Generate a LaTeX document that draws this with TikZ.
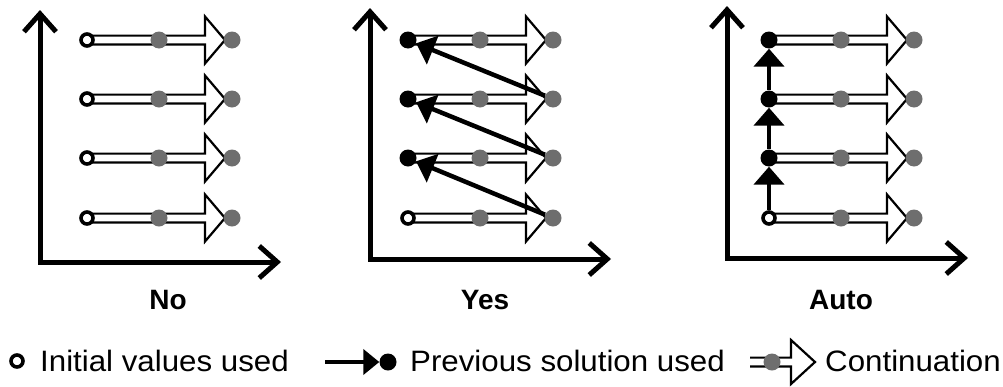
\documentclass[tikz,border=0pt]{standalone}
\usepackage{fontspec}
\setmainfont{Liberation Sans}
\newfontfamily\legendfont[FakeStretch=1.06]{Liberation Sans}
\usetikzlibrary{arrows.meta, calc, backgrounds}
\definecolor{dotgray}{RGB}{110,110,110}
\tikzset{
  barb/.tip={Straight Barb[length=18pt, width=32pt]},
  axis/.style={line width=5pt, line join=miter, barb-barb},
  initdot/.style={circle, draw, line width=3.6pt, fill=white, minimum size=12pt, inner sep=0pt},
  prevdot/.style={circle, fill=black, minimum size=17pt, inner sep=0pt},
  contdot/.style={circle, fill=dotgray, minimum size=17pt, inner sep=0pt},
  contarr/.style={draw, fill=white, line width=2.2pt, line join=miter},
  prevarr/.style={line width=4.5pt, -{Triangle[length=18pt, width=30pt]}},
  panellabel/.style={font=\bfseries\fontsize{28}{28}\selectfont, inner sep=0pt},
  legendtext/.style={font=\legendfont\fontsize{29.5}{29.5}\selectfont, inner sep=0pt, anchor=west},
}

\begin{document}
\begin{tikzpicture}[x=1pt, y=-1pt]
\useasboundingbox (0,0) rectangle (1003,386);
% axes
\foreach \p/\ax/\yb/\yt in {a/40/262/10, b/370/259/8, c/727/258/6} {
  \coordinate (\p top) at (\ax,\yt);
  \coordinate (\p org) at (\ax,\yb);
  \coordinate (\p end) at (\ax+241,\yb);
  \draw[axis] (\p top) -- (\p org) -- (\p end);
}
% continuation points
\foreach \p/\cx in {a/87, b/408, c/769}
  \foreach \r/\y in {1/40, 2/99, 3/158, 4/218} {
    \node[contdot] (\p\r m) at (\cx+72,\y) {};
    \node[contdot] (\p\r e) at (\cx+145,\y) {};
  }
% starting points
\foreach \r/\y in {1/40, 2/99, 3/158, 4/218}
  \node[initdot] (a\r s) at (87,\y) {};
\foreach \p/\cx in {b/408, c/769} {
  \foreach \r/\y in {1/40, 2/99, 3/158}
    \node[prevdot] (\p\r s) at (\cx,\y) {};
  \node[initdot] (\p4s) at (\cx,218) {};
}
% continuation arrows
\begin{scope}[on background layer]
\foreach \p in {a, b, c}
  \foreach \r in {1,...,4}
    \draw[contarr] ($(\p\r s)+(0,-4.4)$) -- ($(\p\r e)+(-27,-4.4)$) -- ($(\p\r e)+(-27,-23.5)$)
      -- ($(\p\r e)+(-7,0)$) -- ($(\p\r e)+(-27,23.5)$) -- ($(\p\r e)+(-27,4.4)$)
      -- ($(\p\r s)+(0,4.4)$) -- cycle;
\end{scope}
% previous solution
\foreach \lo/\hi in {2/1, 3/2, 4/3}
  \draw[prevarr] (b\lo e) -- (b\hi s);
\foreach \lo/\hi in {4/3, 3/2, 2/1}
  \draw[prevarr] (c\lo s) -- (c\hi s);
% panel labels
\node[panellabel] (nolab) at (168,300) {No};
\node[panellabel] (yeslab) at (485,300) {Yes};
\node[panellabel] (autolab) at (841,300) {Auto};
% legend
\node[initdot] (leginit) at (17,361) {};
\node[legendtext] (leginittxt) at (40,361) {Initial values used};
\coordinate (legprevstart) at (325,362);
\node[prevdot] (legprev) at (388,362) {};
\draw[prevarr, -{Triangle[length=16pt, width=25pt]}] (legprevstart) -- (legprev);
\node[legendtext] (legprevtxt) at (410,361) {Previous solution used};
\coordinate (legcontstart) at (750,362);
\coordinate (legcontend) at (815,362);
\draw[contarr, fill=none] ($(legcontstart)+(0,-4.4)$) -- ($(legcontend)+(-24,-4.4)$)
  -- ($(legcontend)+(-24,-22)$) -- (legcontend) -- ($(legcontend)+(-24,22)$)
  -- ($(legcontend)+(-24,4.4)$) -- ($(legcontstart)+(0,4.4)$);
\node[contdot] (legcont) at (772,362) {};
\node[legendtext] (legconttxt) at (825,361) {Continuation};
\end{tikzpicture}
\end{document}
